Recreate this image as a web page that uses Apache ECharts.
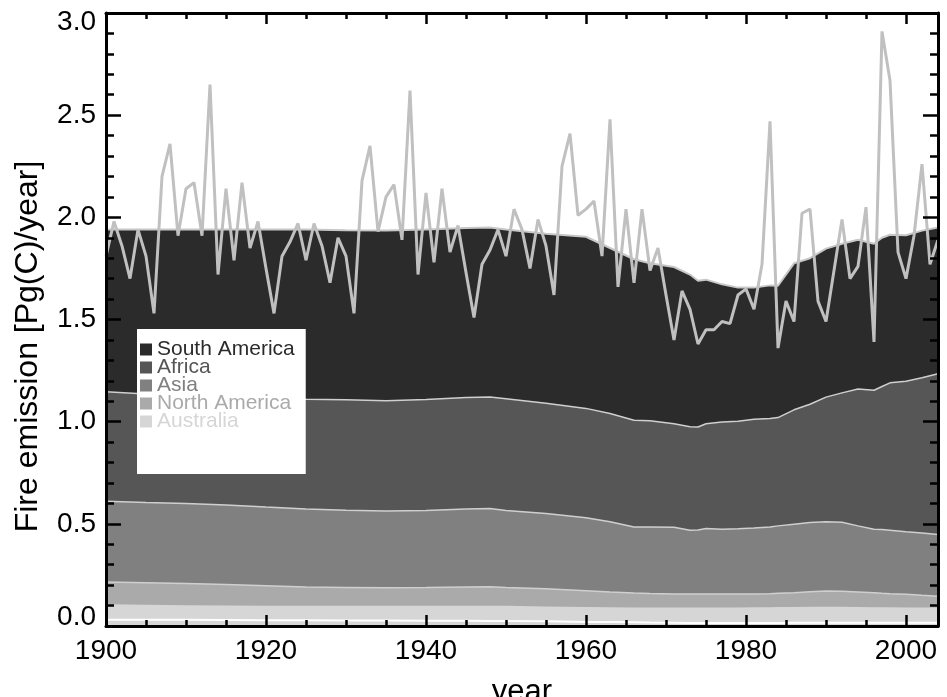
<!DOCTYPE html>
<html>
<head>
<meta charset="utf-8">
<script src="https://cdn.jsdelivr.net/npm/echarts@6/dist/echarts.min.js"></script>
<style>
html,body{margin:0;padding:0;background:#fff;}
#chart{width:947px;height:697px;}
</style>
</head>
<body>
<div id="chart"></div>
<script>
// ---- data ----
const firstYear = 1900;
// annual total fire emission (Pg C / year), 1900..2004
const totalEmission = [
  1.81,1.98,1.86,1.70,1.94,1.81,1.53,2.20,2.36,1.91,
  2.14,2.17,1.91,2.65,1.72,2.14,1.79,2.17,1.85,1.98,
  1.75,1.53,1.81,1.88,1.97,1.79,1.97,1.86,1.68,1.90,
  1.81,1.53,2.18,2.35,1.93,2.10,2.16,1.89,2.62,1.72,
  2.12,1.78,2.14,1.83,1.96,1.73,1.51,1.77,1.84,1.94,
  1.81,2.04,1.94,1.75,1.99,1.86,1.62,2.25,2.41,2.01,
  2.04,2.08,1.81,2.48,1.66,2.04,1.68,2.04,1.74,1.85,
  1.62,1.40,1.64,1.55,1.38,1.45,1.45,1.49,1.48,1.62,
  1.65,1.55,1.77,2.47,1.36,1.59,1.49,2.02,2.04,1.59,
  1.49,1.74,1.99,1.70,1.76,2.05,1.39,2.91,2.67,1.83,
  1.70,1.91,2.26,1.77,1.89
];
const totalYears = totalEmission.map((v, i) => firstYear + i);

// regional (smoothed) emissions, Pg C / year
const regionYears = [1900,1905,1910,1915,1920,1925,1930,1935,1940,1945,1948,1950,1955,1960,1963,1966,1968,1971,1973,1974,1975,1977,1979,1981,1983,1984,1986,1988,1990,1992,1994,1996,1997,1998,2000,2002,2004];
const southAmerica = [0.794,0.805,0.815,0.820,0.825,0.830,0.830,0.833,0.832,0.830,0.829,0.828,0.830,0.840,0.810,0.788,0.771,0.767,0.745,0.716,0.705,0.674,0.654,0.644,0.651,0.645,0.717,0.715,0.727,0.730,0.730,0.717,0.728,0.725,0.714,0.720,0.715];
const africa       = [0.535,0.530,0.525,0.528,0.533,0.537,0.540,0.539,0.543,0.545,0.546,0.547,0.540,0.535,0.530,0.522,0.519,0.507,0.506,0.504,0.513,0.525,0.526,0.532,0.531,0.530,0.560,0.579,0.610,0.633,0.670,0.680,0.700,0.721,0.737,0.760,0.787];
const asia         = [0.396,0.393,0.392,0.389,0.385,0.382,0.378,0.376,0.377,0.382,0.383,0.377,0.368,0.358,0.344,0.324,0.326,0.326,0.313,0.314,0.321,0.317,0.320,0.323,0.327,0.330,0.335,0.338,0.339,0.338,0.323,0.311,0.312,0.311,0.306,0.305,0.302];
const northAmerica = [0.109,0.108,0.106,0.103,0.098,0.092,0.090,0.088,0.089,0.092,0.093,0.089,0.086,0.079,0.074,0.070,0.068,0.066,0.065,0.065,0.065,0.065,0.065,0.065,0.066,0.067,0.070,0.074,0.077,0.076,0.074,0.071,0.068,0.066,0.064,0.059,0.055];
const australia    = [0.076,0.074,0.072,0.071,0.071,0.071,0.072,0.072,0.073,0.073,0.074,0.074,0.073,0.073,0.073,0.073,0.074,0.075,0.076,0.076,0.076,0.076,0.076,0.077,0.077,0.078,0.077,0.078,0.078,0.078,0.077,0.076,0.076,0.076,0.075,0.075,0.075];
const otherRegions = [0.030,0.030,0.030,0.029,0.028,0.028,0.027,0.027,0.026,0.026,0.025,0.025,0.023,0.020,0.019,0.018,0.017,0.016,0.015,0.015,0.015,0.015,0.015,0.015,0.015,0.015,0.016,0.016,0.016,0.016,0.016,0.016,0.016,0.016,0.016,0.016,0.016];

const yearTicks = [1900, 1920, 1940, 1960, 1980, 2000];
const yTicks = [0.0, 0.5, 1.0, 1.5, 2.0, 2.5, 3.0];

// ---- chart ----
const FONT = 'Liberation Sans';
const chart = echarts.init(document.getElementById('chart'), null, {renderer: 'canvas'});

// layers bottom -> top
const layers = [
  {name: 'Other',         data: otherRegions, color: '#d6d6d6', line: '#ffffff', lw: 2},
  {name: 'Australia',     data: australia,    color: '#d6d6d6', line: '#d6d6d6', lw: 0},
  {name: 'North America', data: northAmerica, color: '#aaaaaa', line: '#cfcfcf', lw: 1.5},
  {name: 'Asia',          data: asia,         color: '#808080', line: '#cfcfcf', lw: 1.5},
  {name: 'Africa',        data: africa,       color: '#565656', line: '#cfcfcf', lw: 1.5},
  {name: 'South America', data: southAmerica, color: '#2b2b2b', line: '#c8c8c8', lw: 2}
];
// cumulative tops (stacking done here; each layer is filled from 0 to its top)
let running = regionYears.map(() => 0);
layers.forEach(l => {
  running = running.map((r, i) => r + l.data[i]);
  l.top = running.slice();
});

const series = [];
// draw top layer first so lower layers cover it
layers.slice().reverse().forEach((l, k) => {
  series.push({
    name: l.name,
    type: 'line',
    xAxisIndex: 0,
    yAxisIndex: 0,
    data: l.top.map((v, i) => [regionYears[i], v]),
    showSymbol: false,
    symbol: 'none',
    color: l.color,
    lineStyle: {color: l.line, width: l.lw},
    areaStyle: {color: l.color, opacity: 1, origin: 'start'},
    z: 2 + k * 0.01
  });
});
series.push({
  name: 'Total',
  type: 'line',
  xAxisIndex: 0,
  yAxisIndex: 0,
  data: totalEmission.map((v, i) => [totalYears[i], v]),
  showSymbol: false,
  symbol: 'none',
  lineStyle: {color: '#c0c0c0', width: 3},
  color: '#c0c0c0',
  z: 3
});

const legendItems = ['South America', 'Africa', 'Asia', 'North America', 'Australia'].map(n => {
  const l = layers.find(x => x.name === n);
  return {name: n, textStyle: {color: l.color}};
});

const xBase = {
  type: 'value', min: firstYear, max: totalYears[totalYears.length - 1],
  splitLine: {show: false}, z: 10
};
const frameLine = {show: true, onZero: false, lineStyle: {color: '#000', width: 3}};
const tickStyle = {color: '#000', width: 2.5};

const option = {
  animation: false,
  backgroundColor: '#ffffff',
  textStyle: {fontFamily: FONT},
  grid: {left: 106, right: 9, top: 13, bottom: 71, containLabel: false, outerBoundsMode: 'none'},
  legend: {
    show: true,
    orient: 'vertical',
    left: 137, top: 329,
    data: legendItems,
    icon: 'rect',
    itemWidth: 12, itemHeight: 12,
    itemGap: -3,
    padding: [10, 11, 42, 3],
    backgroundColor: '#ffffff',
    selectedMode: false,
    z: 20,
    textStyle: {fontFamily: FONT, fontSize: 21}
  },
  xAxis: [
    Object.assign({}, xBase, {
      position: 'bottom', interval: 20,
      axisLine: frameLine,
      axisTick: {show: true, inside: true, length: 11, lineStyle: tickStyle},
      axisLabel: {show: true, color: '#000', fontSize: 28, margin: 11, fontFamily: FONT,
        formatter: v => (yearTicks.indexOf(v) >= 0 ? String(v) : '')},
      name: 'year', nameLocation: 'middle', nameGap: 51,
      nameTextStyle: {fontSize: 31, color: '#000', fontFamily: FONT}
    }),
    Object.assign({}, xBase, {
      position: 'bottom', interval: 5,
      axisLine: {show: false, onZero: false},
      axisTick: {show: true, inside: true, length: 6, lineStyle: tickStyle},
      axisLabel: {show: false}
    }),
    Object.assign({}, xBase, {
      position: 'top', interval: 20,
      axisLine: frameLine,
      axisTick: {show: true, inside: true, length: 11, lineStyle: tickStyle},
      axisLabel: {show: false}
    }),
    Object.assign({}, xBase, {
      position: 'top', interval: 5,
      axisLine: {show: false, onZero: false},
      axisTick: {show: true, inside: true, length: 6, lineStyle: tickStyle},
      axisLabel: {show: false}
    })
  ],
  yAxis: [
    {
      type: 'value', position: 'left', min: yTicks[0], max: yTicks[yTicks.length - 1], interval: 0.5,
      splitLine: {show: false}, z: 10,
      axisLine: frameLine,
      axisTick: {show: true, inside: true, length: 15, lineStyle: tickStyle},
      minorTick: {show: true, splitNumber: 5, length: 8, lineStyle: tickStyle},
      axisLabel: {show: true, color: '#000', fontSize: 28, lineHeight: 18, margin: 10, fontFamily: FONT,
        formatter: v => v.toFixed(1),
        verticalAlignMinLabel: 'bottom', verticalAlignMaxLabel: 'top'},
      name: 'Fire emission [Pg(C)/year]', nameLocation: 'middle', nameGap: 62,
      nameTextStyle: {fontSize: 32, color: '#000', fontFamily: FONT, padding: [0, 54, 0, 0]}
    },
    {
      type: 'value', position: 'right', min: yTicks[0], max: yTicks[yTicks.length - 1], interval: 0.5,
      splitLine: {show: false}, z: 10,
      axisLine: frameLine,
      axisTick: {show: true, inside: true, length: 15, lineStyle: tickStyle},
      minorTick: {show: true, splitNumber: 5, length: 8, lineStyle: tickStyle},
      axisLabel: {show: false}
    }
  ],
  series: series
};
chart.setOption(option);
</script>
</body>
</html>
